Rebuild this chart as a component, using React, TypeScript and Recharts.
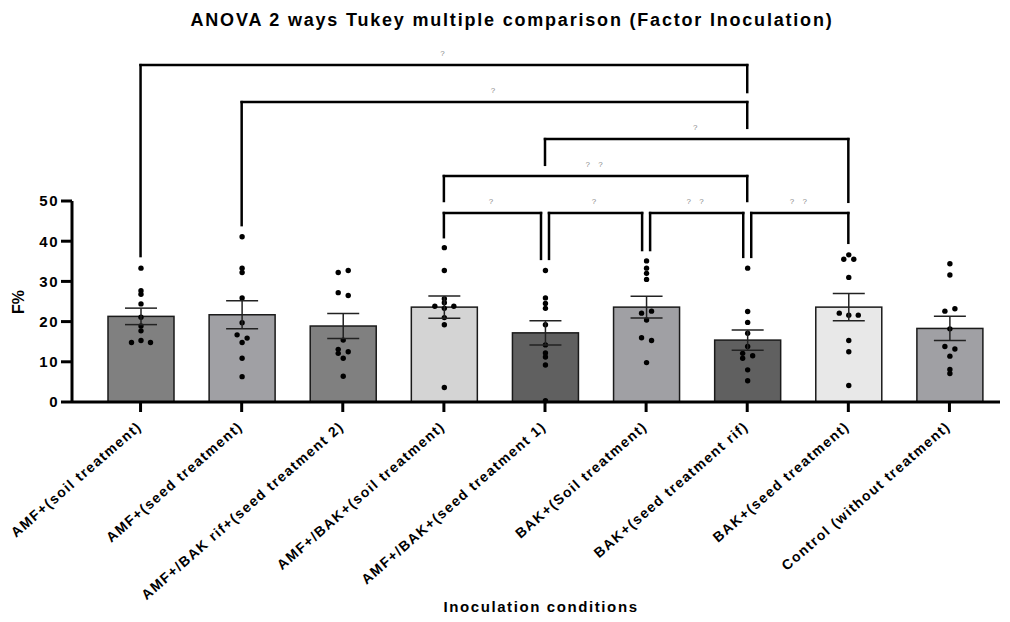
import { ComposedChart, Bar, Cell, ErrorBar, XAxis, YAxis, ReferenceLine } from "recharts";

const CATEGORIES = [
  "AMF+(soil treatment)",
  "AMF+(seed treatment)",
  "AMF+/BAK rif+(seed treatment 2)",
  "AMF+/BAK+(soil treatment)",
  "AMF+/BAK+(seed treatment 1)",
  "BAK+(Soil treatment)",
  "BAK+(seed treatment rif)",
  "BAK+(seed treatment)",
  "Control (without treatment)",
];

const MEANS = [21.3, 21.7, 18.9, 23.6, 17.2, 23.6, 15.4, 23.6, 18.3];
const SEMS = [2.05, 3.5, 3.1, 2.75, 3.0, 2.7, 2.5, 3.4, 3.0];

// individual replicates, top to bottom
const POINTS = [
  [33.3, 27.7, 26.8, 24.4, 21.1, 18.9, 17.7, 14.8, 15.3, 14.8],
  [41.1, 33.3, 32.2, 25.9, 19.7, 16.7, 15.9, 14.8, 10.9, 6.3],
  [32.2, 32.7, 27.2, 26.5, 15.4, 13.1, 12.5, 12.1, 10.9, 6.4],
  [38.4, 32.7, 25.7, 24.7, 23.8, 23.3, 23.8, 21.0, 19.2, 3.6],
  [32.7, 25.9, 24.5, 23.3, 19.2, 14.2, 12.2, 11.2, 9.2, 0.3],
  [35.1, 33.3, 32.0, 30.5, 22.1, 22.6, 20.4, 16.0, 15.3, 9.8],
  [33.3, 22.5, 19.8, 17.1, 13.8, 12.1, 11.5, 10.9, 8.0, 5.3],
  [36.6, 35.5, 35.5, 31.0, 22.1, 21.6, 21.6, 15.3, 12.5, 4.1],
  [34.4, 31.6, 22.6, 23.2, 18.2, 13.8, 13.2, 11.4, 8.1, 7.1],
];

const Y_TICKS = [0, 10, 20, 30, 40, 50];

const FILLS = ["#808080", "#a0a0a4", "#808080", "#d4d4d4", "#606060", "#a0a0a4", "#606060", "#e8e8e8", "#a0a0a4"];

// Tukey comparisons: bracket from one group to another, heights in F% units
const COMPARISONS = [
  { from: 0, to: 6, level: 83.8, fromEnd: 36.3, toEnd: 77.1, fromShift: 0, toShift: 0, label: "?" },
  { from: 1, to: 6, level: 74.6, fromEnd: 44.0, toEnd: 68.2, fromShift: 0, toShift: 0, label: "?" },
  { from: 4, to: 7, level: 65.4, fromEnd: 59.0, toEnd: 49.8, fromShift: 0, toShift: 0, label: "?" },
  { from: 3, to: 6, level: 56.2, fromEnd: 50.0, toEnd: 50.0, fromShift: 0, toShift: 0, label: "? ?" },
  { from: 3, to: 4, level: 47.0, fromEnd: 41.0, toEnd: 35.6, fromShift: 0, toShift: -4, label: "?" },
  { from: 4, to: 5, level: 47.0, fromEnd: 35.6, toEnd: 37.8, fromShift: 4, toShift: -4, label: "?" },
  { from: 5, to: 6, level: 47.0, fromEnd: 37.8, toEnd: 36.1, fromShift: 4, toShift: -4, label: "? ?" },
  { from: 6, to: 7, level: 47.0, fromEnd: 36.1, toEnd: 39.6, fromShift: 4, toShift: 0, label: "? ?" },
];

const FONT = "'Liberation Sans', Arial, sans-serif";
const NEAR = 0.85;

const chartData = CATEGORIES.map((name, i) => ({
  name,
  mean: MEANS[i],
  sem: SEMS[i],
  points: POINTS[i],
}));

// spread dots that would overlap side by side, like a scatter dot plot
function dotOffsets(values: number[]): number[] {
  const out = values.map(() => 0);
  let start = 0;
  while (start < values.length) {
    let end = start + 1;
    while (end < values.length && Math.abs(values[end] - values[end - 1]) < NEAR) end++;
    const n = end - start;
    if (n > 1) {
      const group = values.slice(start, end);
      const zig = group.every((v, k) => k < 2 || Math.abs(v - group[k - 2]) >= NEAR);
      for (let k = 0; k < n; k++) {
        out[start + k] = zig ? (k % 2 === 0 ? -5 : 5) : (k - (n - 1) / 2) * 9.5;
      }
    }
    start = end;
  }
  return out;
}

const BarWithDots = (props: any) => {
  const { x, y, width, height, fill, payload } = props;
  const base = y + height;
  const perUnit = height / payload.mean;
  const cx = x + width / 2;
  const offs = dotOffsets(payload.points);
  return (
    <g>
      <rect x={x} y={y} width={width} height={height} fill={fill} stroke="#1a1a1a" strokeWidth={1.5} />
      {payload.points.map((v: number, k: number) => (
        <circle key={k} cx={cx + offs[k]} cy={base - v * perUnit} r={2.7} fill="#000" />
      ))}
    </g>
  );
};

const CategoryTick = ({ x, y, payload }: any) => (
  <g transform={`translate(${x + 2},${y + 14})`}>
    <text
      x={0}
      y={0}
      textAnchor="end"
      transform="rotate(-41)"
      fontFamily={FONT}
      fontWeight="bold"
      fontSize={14}
      letterSpacing={1.4}
      fill="#000"
    >
      {payload.value}
    </text>
  </g>
);

const legShape = (shift: number) => (p: any) => (
  <line x1={p.x1 + shift} y1={p.y1} x2={p.x2 + shift} y2={p.y2} stroke="#000" strokeWidth={2.5} strokeLinecap="square" />
);

const spanShape = (a: number, b: number, label: string) => (p: any) => (
  <g>
    <line x1={p.x1 + a} y1={p.y1} x2={p.x2 + b} y2={p.y2} stroke="#000" strokeWidth={2.5} strokeLinecap="square" />
    <text
      x={(p.x1 + a + p.x2 + b) / 2}
      y={p.y1 - 9}
      textAnchor="middle"
      fontFamily={FONT}
      fontSize={8}
      letterSpacing={3}
      fill="#8a8a8a"
    >
      {label}
    </text>
  </g>
);

export default function App() {
  return (
    <div style={{ position: "absolute", left: 0, top: 0, width: 1010, height: 622, background: "#fff" }}>
      <div
        style={{
          position: "absolute",
          left: 14,
          top: 9,
          width: 996,
          textAlign: "center",
          fontFamily: FONT,
          fontWeight: "bold",
          fontSize: 18,
          letterSpacing: 1.8,
          lineHeight: "22px",
        }}
      >
        ANOVA 2 ways Tukey multiple comparison (Factor Inoculation)
      </div>
      <ComposedChart
        width={1010}
        height={622}
        data={chartData}
        margin={{ top: 201, right: 10, bottom: 0, left: 0 }}
      >
        <XAxis
          dataKey="name"
          height={220}
          padding={{ left: 18, right: 0 }}
          axisLine={{ stroke: "#000", strokeWidth: 3 }}
          tickLine={{ stroke: "#000", strokeWidth: 3 }}
          tickSize={10}
          interval={0}
          tick={<CategoryTick />}
        />
        <YAxis
          width={72}
          domain={[0, 50]}
          ticks={Y_TICKS}
          axisLine={{ stroke: "#000", strokeWidth: 3 }}
          tickLine={{ stroke: "#000", strokeWidth: 3 }}
          tickSize={11}
          tickMargin={2}
          tick={{ fill: "#000", fontFamily: FONT, fontWeight: "bold", fontSize: 15, letterSpacing: 1.5 }}
        />
        <Bar dataKey="mean" barSize={66} isAnimationActive={false} shape={<BarWithDots />}>
          {chartData.map((entry, index) => (
            <Cell key={`cell-${index}`} fill={FILLS[index]} />
          ))}
          <ErrorBar dataKey="sem" width={16} stroke="#222" strokeWidth={1.5} direction="y" />
        </Bar>
        {COMPARISONS.map((c, i) => [
          <ReferenceLine
            key={`span-${i}`}
            segment={[
              { x: CATEGORIES[c.from], y: c.level },
              { x: CATEGORIES[c.to], y: c.level },
            ]}
            ifOverflow="visible"
            shape={spanShape(c.fromShift, c.toShift, c.label)}
          />,
          <ReferenceLine
            key={`legA-${i}`}
            segment={[
              { x: CATEGORIES[c.from], y: c.level },
              { x: CATEGORIES[c.from], y: c.fromEnd },
            ]}
            ifOverflow="visible"
            shape={legShape(c.fromShift)}
          />,
          <ReferenceLine
            key={`legB-${i}`}
            segment={[
              { x: CATEGORIES[c.to], y: c.level },
              { x: CATEGORIES[c.to], y: c.toEnd },
            ]}
            ifOverflow="visible"
            shape={legShape(c.toShift)}
          />,
        ])}
      </ComposedChart>
      <div
        style={{
          position: "absolute",
          left: 19,
          top: 302,
          transform: "translate(-50%, -50%) rotate(-90deg)",
          fontFamily: FONT,
          fontWeight: "bold",
          fontSize: 16,
          whiteSpace: "nowrap",
        }}
      >
        F%
      </div>
      <div
        style={{
          position: "absolute",
          left: 72,
          top: 597,
          width: 938,
          textAlign: "center",
          fontFamily: FONT,
          fontWeight: "bold",
          fontSize: 15,
          letterSpacing: 1.6,
          lineHeight: "20px",
        }}
      >
        Inoculation conditions
      </div>
    </div>
  );
}
